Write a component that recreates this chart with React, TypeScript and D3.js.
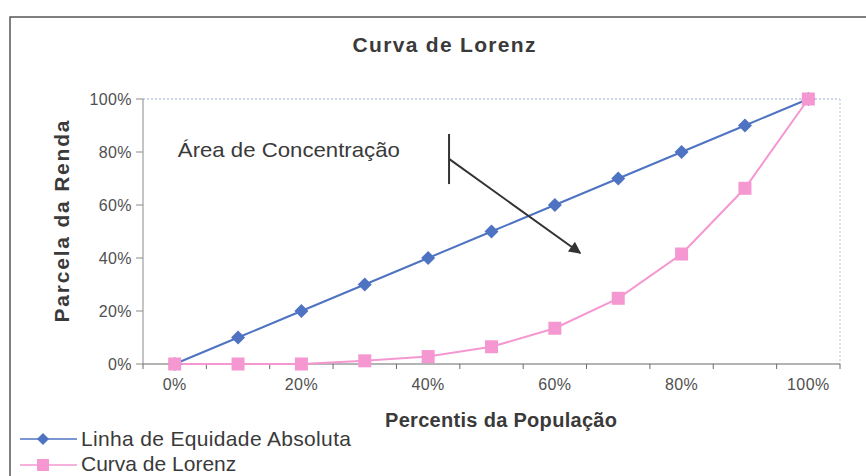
import React from "react";
import * as d3 from "d3";

// dados
const categorias = ["0%", "10%", "20%", "30%", "40%", "50%", "60%", "70%", "80%", "90%", "100%"];
const equidade = [0, 0.1, 0.2, 0.3, 0.4, 0.5, 0.6, 0.7, 0.8, 0.9, 1.0];
const lorenz = [0, 0, 0, 0.012, 0.028, 0.065, 0.135, 0.248, 0.415, 0.663, 1.0];
const xTickLabels = ["0%", "20%", "40%", "60%", "80%", "100%"];
const yTicks = [0, 0.2, 0.4, 0.6, 0.8, 1.0];

const serieNomes = ["Linha de Equidade Absoluta", "Curva de Lorenz"];
const azul = "#4F73C3";
const rosa = "#F597D0";
const textoCor = "#3a3a3a";
const font = "Arial, 'Liberation Sans', sans-serif";

export default function App() {
  const width = 866;
  const height = 476;
  const left = 143;
  const right = 840;
  const top = 99;
  const bottom = 364;

  // eixo x é de categorias (como no Excel), pontos no centro de cada faixa
  const x = d3.scaleBand().domain(categorias).range([left, right]).paddingInner(0).paddingOuter(0);
  const cx = (c: string) => (x(c) as number) + x.bandwidth() / 2;
  // escala contínua por índice de categoria, só para a anotação
  const xi = d3.scaleLinear().domain([-0.5, 10.5]).range([left, right]);
  const y = d3.scaleLinear().domain([0, 1]).range([bottom, top]);

  const linha = d3
    .line<number>()
    .x((_, i) => cx(categorias[i]))
    .y((d) => y(d));

  const bordas = categorias.map((c) => x(c) as number).concat([right]);
  const fmt = d3.format(".0%");

  const diamante = (px: number, py: number, r: number) =>
    `M${px},${py - r}L${px + r},${py}L${px},${py + r}L${px - r},${py}Z`;

  return (
    <svg
      width={width}
      height={height}
      style={{ position: "absolute", left: 0, top: 0, background: "#fff" }}
      fontFamily={font}
    >
      <defs>
        <marker id="seta" viewBox="0 0 10 10" refX="9" refY="5" markerWidth="7" markerHeight="6" orient="auto">
          <path d="M0,0L10,5L0,10Z" fill="#333" />
        </marker>
      </defs>
      {/* moldura */}
      <rect x={10} y={17} width={870} height={480} fill="none" stroke="#555" strokeWidth={1.5} />

      {/* título */}
      <text x={444} y={52} textAnchor="middle" fontSize={21} fontWeight="bold" fill={textoCor}
        textLength={183} lengthAdjust="spacing">
        Curva de Lorenz
      </text>

      {/* borda da área de plotagem */}
      <line x1={left} x2={right} y1={top} y2={top} stroke="#9aaccc" strokeDasharray="2,2" />
      <line x1={right} x2={right} y1={top} y2={bottom} stroke="#b8c2d0" strokeDasharray="2,2" />

      {/* eixo y */}
      <line x1={left} x2={left} y1={top} y2={bottom} stroke="#8a8a8a" />
      {yTicks.map((t) => (
        <g key={t}>
          <line x1={left - 7} x2={left} y1={y(t)} y2={y(t)} stroke="#8a8a8a" />
          <text x={132} y={y(t) + 5.5} textAnchor="end" fontSize={16} fill="#505050" letterSpacing={0.4}>
            {fmt(t)}
          </text>
        </g>
      ))}
      <text
        transform={`translate(69,${(top + bottom) / 2 - 10}) rotate(-90)`}
        textAnchor="middle"
        fontSize={21}
        fontWeight="bold"
        fill={textoCor}
        textLength={202}
        lengthAdjust="spacing"
      >
        Parcela da Renda
      </text>

      {/* eixo x */}
      <line x1={left} x2={right} y1={bottom} y2={bottom} stroke="#6a6a6a" strokeWidth={1.2} />
      {bordas.map((b, i) => (
        <line key={i} x1={b} x2={b} y1={bottom} y2={bottom + 5} stroke="#6a6a6a" />
      ))}
      {xTickLabels.map((l) => (
        <text key={l} x={cx(l)} y={390} textAnchor="middle" fontSize={16} fill="#505050" letterSpacing={0.4}>
          {l}
        </text>
      ))}
      <text x={501} y={427} textAnchor="middle" fontSize={20} fontWeight="bold" fill={textoCor}
        textLength={232} lengthAdjust="spacing">
        Percentis da População
      </text>

      {/* séries */}
      <path d={linha(equidade) as string} fill="none" stroke={azul} strokeWidth={2} />
      <path d={linha(lorenz) as string} fill="none" stroke={rosa} strokeWidth={2} />
      {equidade.map((v, i) => (
        <path key={"e" + i} d={diamante(cx(categorias[i]), y(v), 7)} fill={azul} />
      ))}
      {lorenz.map((v, i) => (
        <rect key={"l" + i} x={cx(categorias[i]) - 6.5} y={y(v) - 6.5} width={13} height={13} fill={rosa} />
      ))}

      {/* anotação */}
      <text x={xi(0.05)} y={y(0.78)} fontSize={21} fill={textoCor} textLength={222} lengthAdjust="spacingAndGlyphs">
        Área de Concentração
      </text>
      <line x1={xi(4.33)} x2={xi(4.33)} y1={y(0.868)} y2={y(0.679)} stroke="#333" strokeWidth={2} />
      <line
        x1={xi(4.33)}
        y1={y(0.774)}
        x2={xi(6.4)}
        y2={y(0.419)}
        stroke="#333"
        strokeWidth={2}
        markerEnd="url(#seta)"
      />

      {/* legenda */}
      <line x1={20} x2={77} y1={439} y2={439} stroke={azul} strokeWidth={1.5} />
      <path d={diamante(43, 439, 6)} fill={azul} />
      <text x={81} y={446} fontSize={21} fill={textoCor} textLength={270} lengthAdjust="spacing">
        {serieNomes[0]}
      </text>
      <line x1={20} x2={77} y1={465} y2={465} stroke={rosa} strokeWidth={1.5} />
      <rect x={37} y={459} width={12} height={12} fill={rosa} />
      <text x={81} y={471} fontSize={21} fill={textoCor}>
        {serieNomes[1]}
      </text>
    </svg>
  );
}
